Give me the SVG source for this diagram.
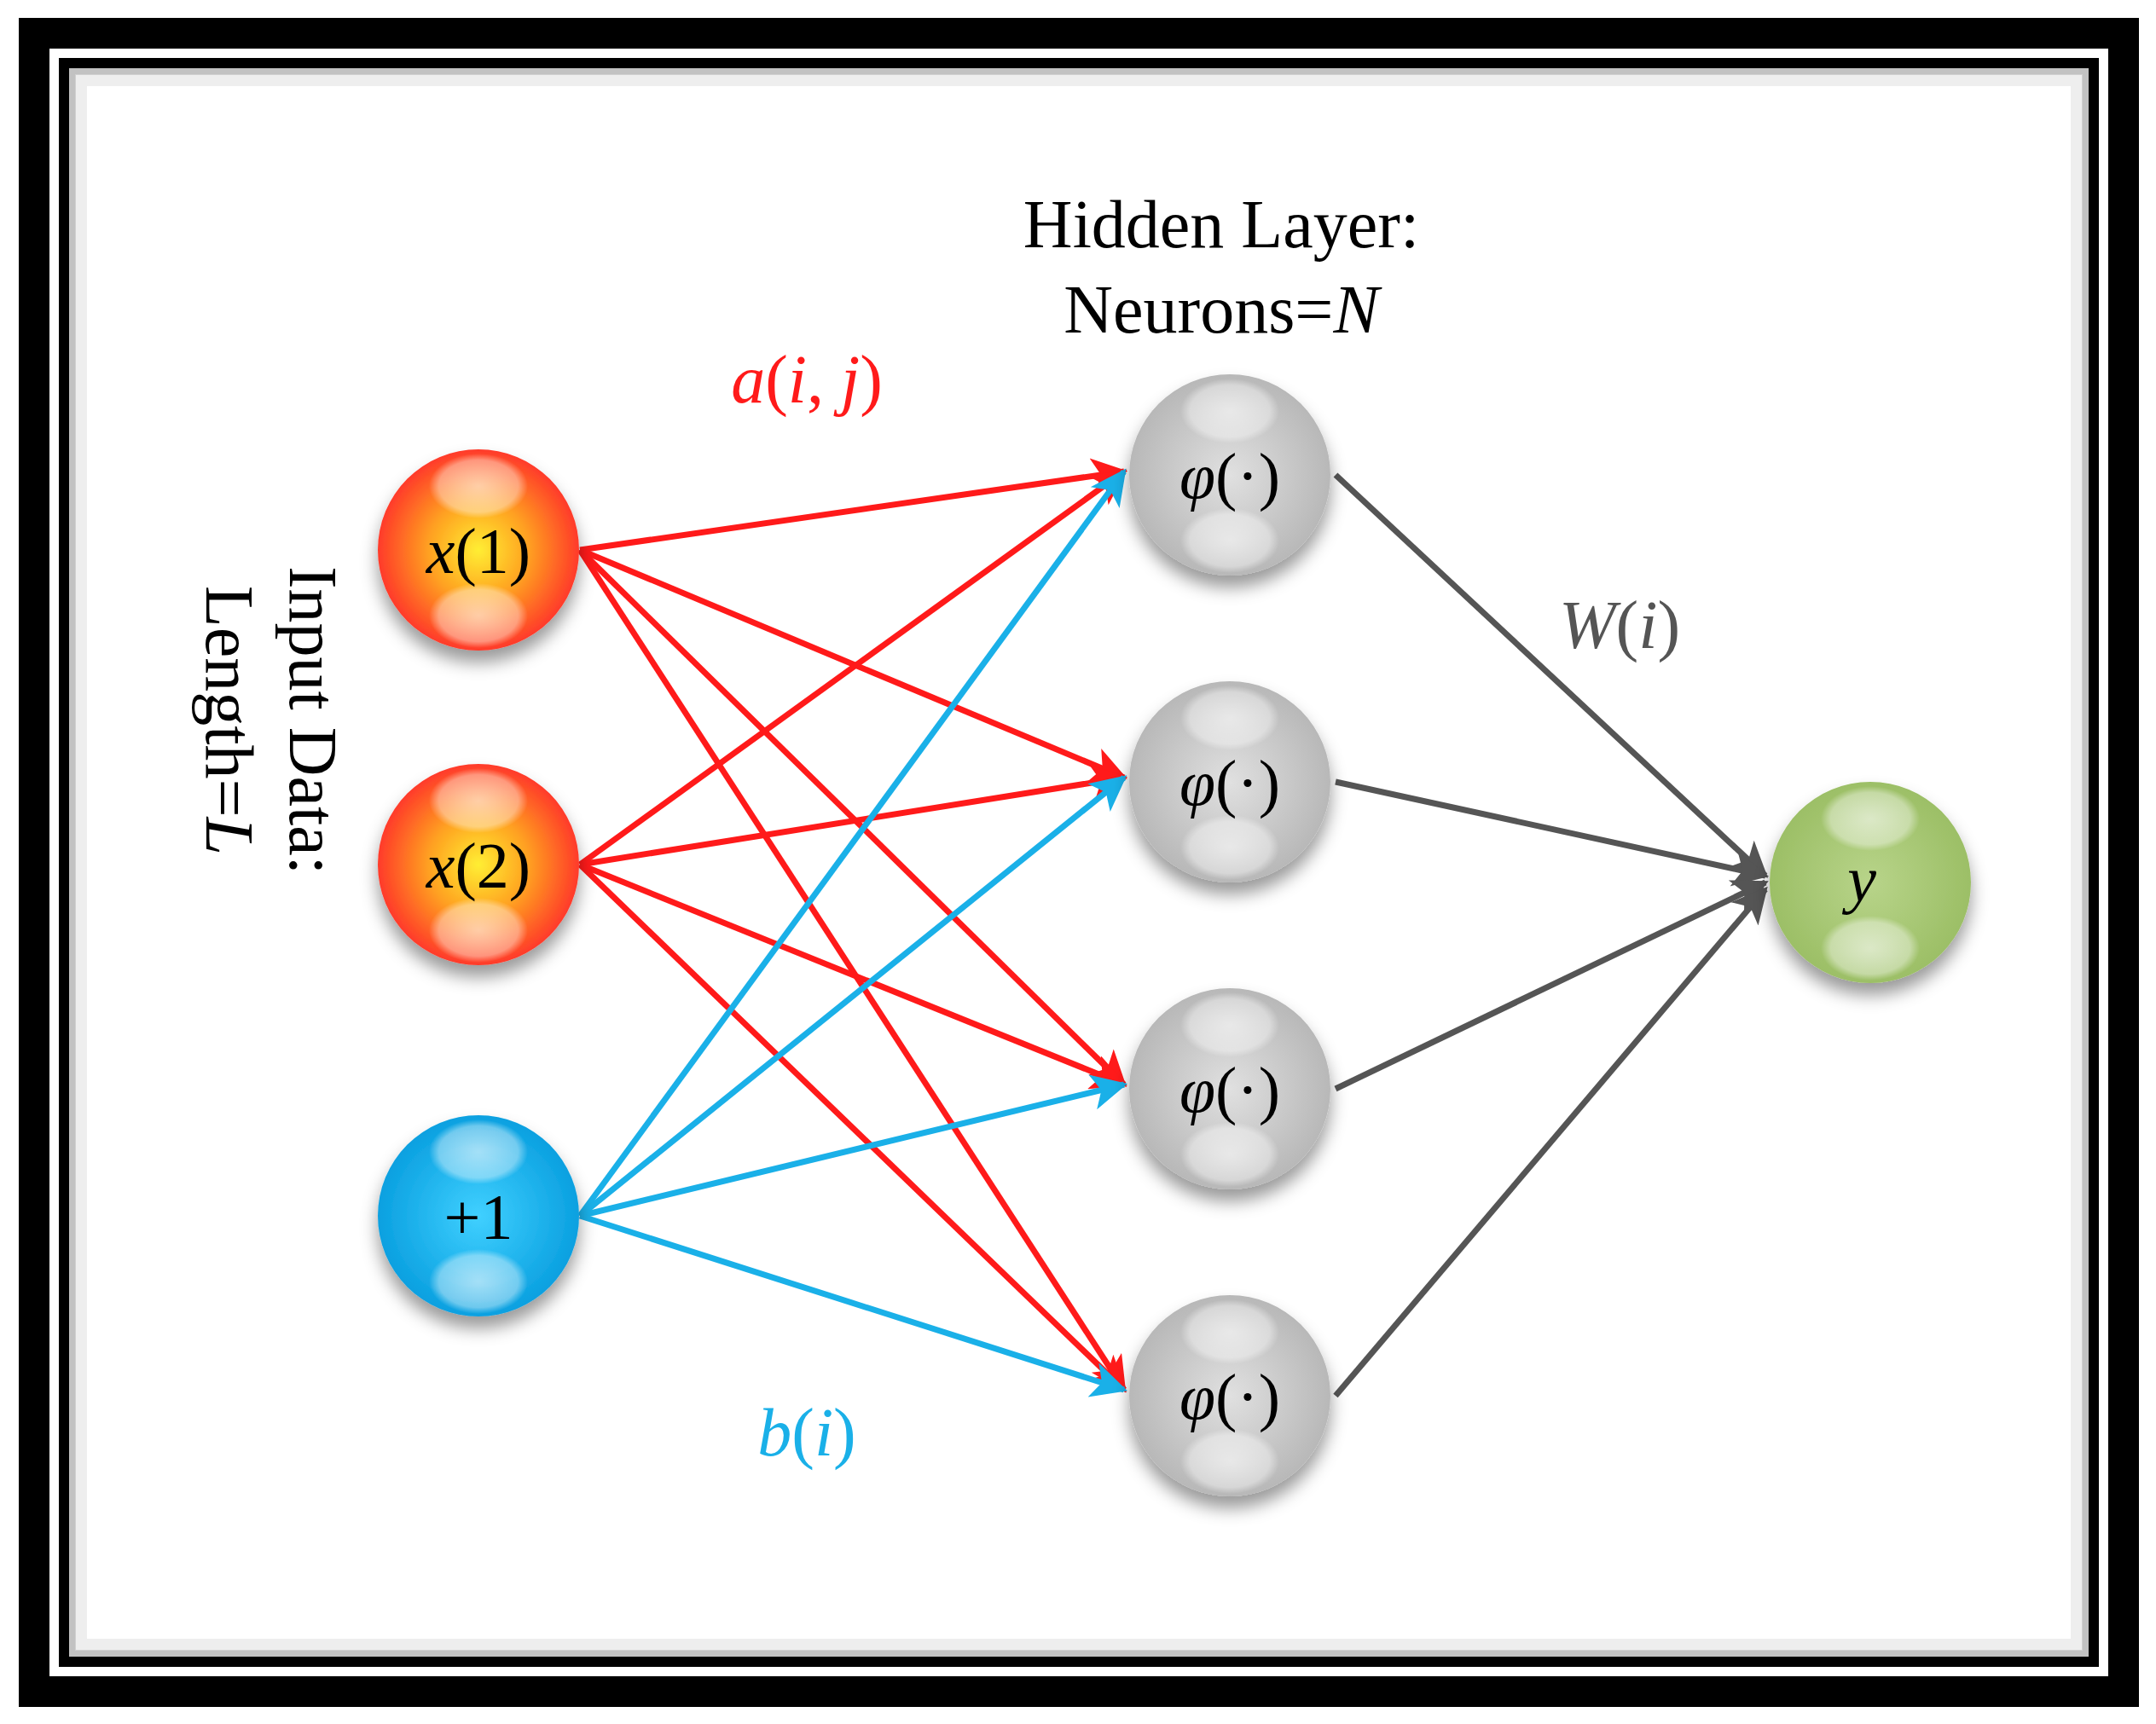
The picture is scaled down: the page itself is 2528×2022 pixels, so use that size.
<svg xmlns="http://www.w3.org/2000/svg" width="2528" height="2022" viewBox="0 0 2528 2022">
<defs>
<style>
.t{font-family:"Liberation Serif","DejaVu Serif",serif;font-size:80px;}
.n{font-family:"Liberation Serif","DejaVu Serif",serif;font-size:76px;text-anchor:middle;}
.r{stroke:#ff1a1a;stroke-width:7;fill:none;marker-end:url(#mr);}
.b{stroke:#1ab0e8;stroke-width:7;fill:none;marker-end:url(#mb);}
.g{stroke:#555;stroke-width:7;fill:none;marker-end:url(#mg);}
.hl{fill:url(#hg);}
</style>
<marker id="mr" viewBox="0 0 10 10" refX="9" refY="5" markerWidth="7" markerHeight="6" markerUnits="strokeWidth" orient="auto"><path d="M0,0 L10,5 L0,10 L2.5,5 Z" fill="#ff1a1a"/></marker>
<marker id="mb" viewBox="0 0 10 10" refX="9" refY="5" markerWidth="7" markerHeight="6" markerUnits="strokeWidth" orient="auto"><path d="M0,0 L10,5 L0,10 L2.5,5 Z" fill="#1ab0e8"/></marker>
<marker id="mg" viewBox="0 0 10 10" refX="9" refY="5" markerWidth="7" markerHeight="6" markerUnits="strokeWidth" orient="auto"><path d="M0,0 L10,5 L0,10 L2.5,5 Z" fill="#555"/></marker>
<radialGradient id="go" cx="0.5" cy="0.5" r="0.5"><stop offset="0" stop-color="#ffee33"/><stop offset="0.5" stop-color="#ffa020"/><stop offset="1" stop-color="#ff3a2a"/></radialGradient>
<radialGradient id="gb" cx="0.5" cy="0.5" r="0.5"><stop offset="0" stop-color="#40d0ff"/><stop offset="1" stop-color="#0aa0e0"/></radialGradient>
<radialGradient id="gg" cx="0.5" cy="0.5" r="0.5"><stop offset="0" stop-color="#e0e0e0"/><stop offset="1" stop-color="#b8b8b8"/></radialGradient>
<radialGradient id="gy" cx="0.5" cy="0.5" r="0.5"><stop offset="0" stop-color="#b8d48a"/><stop offset="1" stop-color="#9cbf66"/></radialGradient>
<radialGradient id="hg" cx="0.5" cy="0.5" r="0.5"><stop offset="0" stop-color="#fff" stop-opacity="0.6"/><stop offset="0.8" stop-color="#fff" stop-opacity="0.4"/><stop offset="1" stop-color="#fff" stop-opacity="0"/></radialGradient>
<filter id="sh" x="-30%" y="-30%" width="160%" height="170%"><feDropShadow dx="0" dy="14" stdDeviation="10" flood-color="#000" flood-opacity="0.4"/></filter>
</defs>
<rect width="2528" height="2022" fill="#fff"/>
<g id="frame">
<rect x="40" y="39" width="2450" height="1945" fill="none" stroke="#000" stroke-width="36"/>
<rect x="75" y="74" width="2380" height="1875" fill="none" stroke="#000" stroke-width="12"/>
<rect x="85" y="84" width="2360" height="1855" fill="none" stroke="#999" stroke-width="8" opacity="0.6"/>
<rect x="95" y="94" width="2340" height="1835" fill="none" stroke="#ddd" stroke-width="14" opacity="0.5"/>
</g>
<g id="connectors">
<line class="r" x1="680" y1="645" x2="1318" y2="553"/>
<line class="r" x1="680" y1="645" x2="1318" y2="912"/>
<line class="r" x1="680" y1="645" x2="1318" y2="1272"/>
<line class="r" x1="680" y1="645" x2="1318" y2="1630"/>
<line class="r" x1="680" y1="1014" x2="1318" y2="553"/>
<line class="r" x1="680" y1="1014" x2="1318" y2="912"/>
<line class="r" x1="680" y1="1014" x2="1318" y2="1272"/>
<line class="r" x1="680" y1="1014" x2="1318" y2="1630"/>
<line class="b" x1="680" y1="1426" x2="1318" y2="553"/>
<line class="b" x1="680" y1="1426" x2="1318" y2="912"/>
<line class="b" x1="680" y1="1426" x2="1318" y2="1272"/>
<line class="b" x1="680" y1="1426" x2="1318" y2="1630"/>
<line class="g" x1="1566" y1="557" x2="2070" y2="1027"/>
<line class="g" x1="1566" y1="917" x2="2070" y2="1027"/>
<line class="g" x1="1566" y1="1277" x2="2070" y2="1035"/>
<line class="g" x1="1566" y1="1637" x2="2070" y2="1043"/>
</g>
<g id="x1"><circle cx="561" cy="645" r="118" fill="url(#go)" filter="url(#sh)"/><ellipse class="hl" cx="561" cy="570" rx="58" ry="38"/><ellipse class="hl" cx="561" cy="722" rx="58" ry="38"/><text class="n" x="561" y="672"><tspan font-style="italic">x</tspan>(1)</text></g>
<g id="x2"><circle cx="561" cy="1014" r="118" fill="url(#go)" filter="url(#sh)"/><ellipse class="hl" cx="561" cy="939" rx="58" ry="38"/><ellipse class="hl" cx="561" cy="1091" rx="58" ry="38"/><text class="n" x="561" y="1041"><tspan font-style="italic">x</tspan>(2)</text></g>
<g id="bias"><circle cx="561" cy="1426" r="118" fill="url(#gb)" filter="url(#sh)"/><ellipse class="hl" cx="561" cy="1351" rx="58" ry="38"/><ellipse class="hl" cx="561" cy="1503" rx="58" ry="38"/><text class="n" x="561" y="1453">+1</text></g>
<g id="h1"><circle cx="1442" cy="557" r="118" fill="url(#gg)" filter="url(#sh)"/><ellipse class="hl" cx="1442" cy="482" rx="58" ry="38"/><ellipse class="hl" cx="1442" cy="634" rx="58" ry="38"/><text class="n" x="1442" y="584"><tspan font-style="italic">φ</tspan>(·)</text></g>
<g id="h2"><circle cx="1442" cy="917" r="118" fill="url(#gg)" filter="url(#sh)"/><ellipse class="hl" cx="1442" cy="842" rx="58" ry="38"/><ellipse class="hl" cx="1442" cy="994" rx="58" ry="38"/><text class="n" x="1442" y="944"><tspan font-style="italic">φ</tspan>(·)</text></g>
<g id="h3"><circle cx="1442" cy="1277" r="118" fill="url(#gg)" filter="url(#sh)"/><ellipse class="hl" cx="1442" cy="1202" rx="58" ry="38"/><ellipse class="hl" cx="1442" cy="1354" rx="58" ry="38"/><text class="n" x="1442" y="1304"><tspan font-style="italic">φ</tspan>(·)</text></g>
<g id="h4"><circle cx="1442" cy="1637" r="118" fill="url(#gg)" filter="url(#sh)"/><ellipse class="hl" cx="1442" cy="1562" rx="58" ry="38"/><ellipse class="hl" cx="1442" cy="1714" rx="58" ry="38"/><text class="n" x="1442" y="1664"><tspan font-style="italic">φ</tspan>(·)</text></g>
<g id="y"><circle cx="2193" cy="1035" r="118" fill="url(#gy)" filter="url(#sh)"/><ellipse class="hl" cx="2193" cy="960" rx="58" ry="38"/><ellipse class="hl" cx="2193" cy="1112" rx="58" ry="38"/><text class="n" x="2183" y="1057" font-style="italic">y</text></g>
<g id="labels">
<text class="t" x="1432" y="290" text-anchor="middle">Hidden Layer:</text>
<text class="t" x="1432" y="390" text-anchor="middle">Neurons=<tspan font-style="italic">N</tspan></text>
<text class="t" x="946" y="472" text-anchor="middle" fill="#ff1a1a" font-style="italic">a<tspan font-style="normal">(</tspan>i<tspan font-style="normal">, </tspan>j<tspan font-style="normal">)</tspan></text>
<text class="t" x="946" y="1707" text-anchor="middle" fill="#1ab0e8" font-style="italic">b<tspan font-style="normal">(</tspan>i<tspan font-style="normal">)</tspan></text>
<text class="t" x="1899" y="760" text-anchor="middle" fill="#555" font-style="italic">W<tspan font-style="normal">(</tspan>i<tspan font-style="normal">)</tspan></text>
<text class="t" transform="translate(340,845) rotate(90)" text-anchor="middle">Input Data:</text>
<text class="t" transform="translate(242,845) rotate(90)" text-anchor="middle">Length=<tspan font-style="italic">L</tspan></text>
</g>
</svg>
